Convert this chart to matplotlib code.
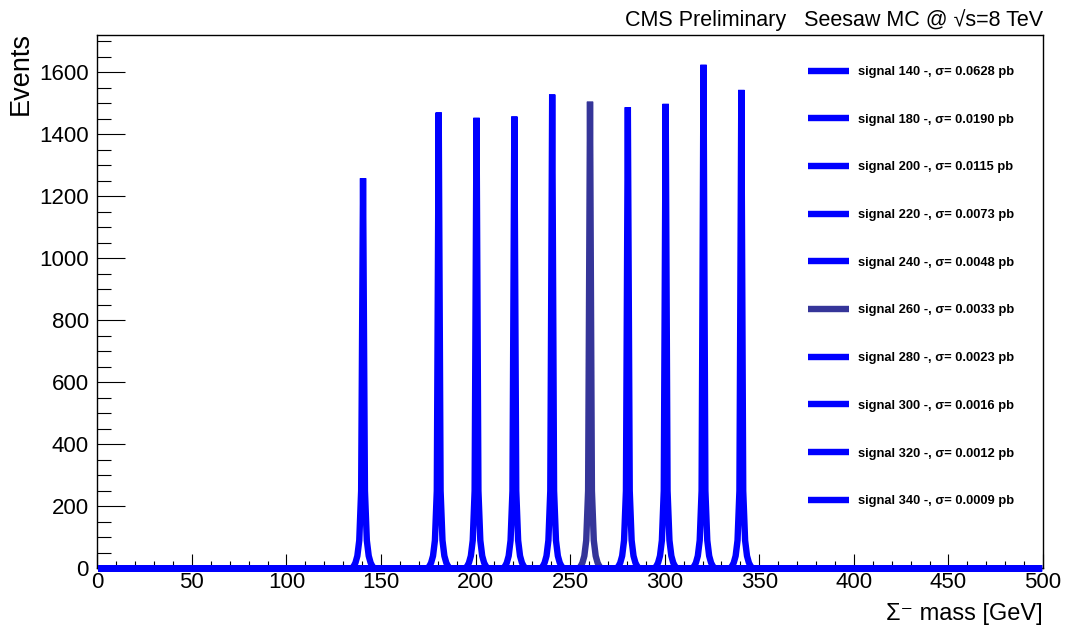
import numpy as np
import matplotlib
matplotlib.use("Agg")
import matplotlib.pyplot as plt
from matplotlib.ticker import MultipleLocator

plt.rcParams['font.family'] = ['Liberation Sans', 'DejaVu Sans']

# signal samples: mass point, cross section, peak bin content
masses = [140, 180, 200, 220, 240, 260, 280, 300, 320, 340]
xsec = ["0.0628", "0.0190", "0.0115", "0.0073", "0.0048",
        "0.0033", "0.0023", "0.0016", "0.0012", "0.0009"]
peak_counts = [1258, 1470, 1453, 1457, 1528, 1505, 1487, 1498, 1624, 1543]
# bin contents 1..5 GeV away from the peak bin (same on both sides)
side_counts = [250, 90, 40, 18, 6]
colors = ["#0000ff"] * 5 + ["#353599"] + ["#0000ff"] * 4

nbins = 500
centers = np.arange(nbins) + 0.5

fig = plt.figure(figsize=(10.71, 6.29), dpi=100)
ax = fig.add_axes([97.3 / 1071, 1 - 568.3 / 629, (1043 - 97.3) / 1071, (568.3 - 35) / 629])

lines = []
for m, xs, pk, c in zip(masses, xsec, peak_counts, colors):
    h = np.zeros(nbins)
    h[m] = pk
    for k, v in enumerate(side_counts, start=1):
        h[m - k] = v
        h[m + k] = v
    ln, = ax.plot(centers, h, color=c, lw=4.6, solid_joinstyle='bevel',
                  solid_capstyle='butt', clip_on=False, zorder=3,
                  label=f"signal {m} -, σ= {xs} pb")
    lines.append(ln)

ax.set_xlim(0, 500)
ax.set_ylim(0, 1720)
ax.xaxis.set_major_locator(MultipleLocator(50))
ax.xaxis.set_minor_locator(MultipleLocator(10))
ax.yaxis.set_major_locator(MultipleLocator(200))
ax.yaxis.set_minor_locator(MultipleLocator(50))
ax.tick_params(which='both', direction='in', top=False, right=False,
               width=0.8, labelsize=16)
ax.tick_params(axis='x', which='major', length=10, pad=3)
ax.tick_params(axis='x', which='minor', length=5)
ax.tick_params(axis='y', which='major', length=20, pad=6)
ax.tick_params(axis='y', which='minor', length=10)
for sp in ax.spines.values():
    sp.set_linewidth(1.0)

leg = ax.legend(handles=lines, loc='upper left', bbox_to_anchor=(0.7515, 0.9419),
                frameon=False, prop={'size': 9.3, 'weight': 'bold'},
                handlelength=3.2, handletextpad=0.7, labelspacing=2.76,
                borderpad=0, borderaxespad=0)

fig.text(1043 / 1071, 1 - 26 / 629, "CMS Preliminary   Seesaw MC @ √s=8 TeV",
         ha='right', va='baseline', fontsize=15.5)
fig.text(1043 / 1071, 1 - 620 / 629, "Σ⁻ mass [GeV]",
         ha='right', va='baseline', fontsize=17)
fig.text(21 / 1071, 1 - 32 / 629, "Events", rotation=90,
         ha='center', va='top', fontsize=19.5)

fig.savefig("out.png", dpi=100)
